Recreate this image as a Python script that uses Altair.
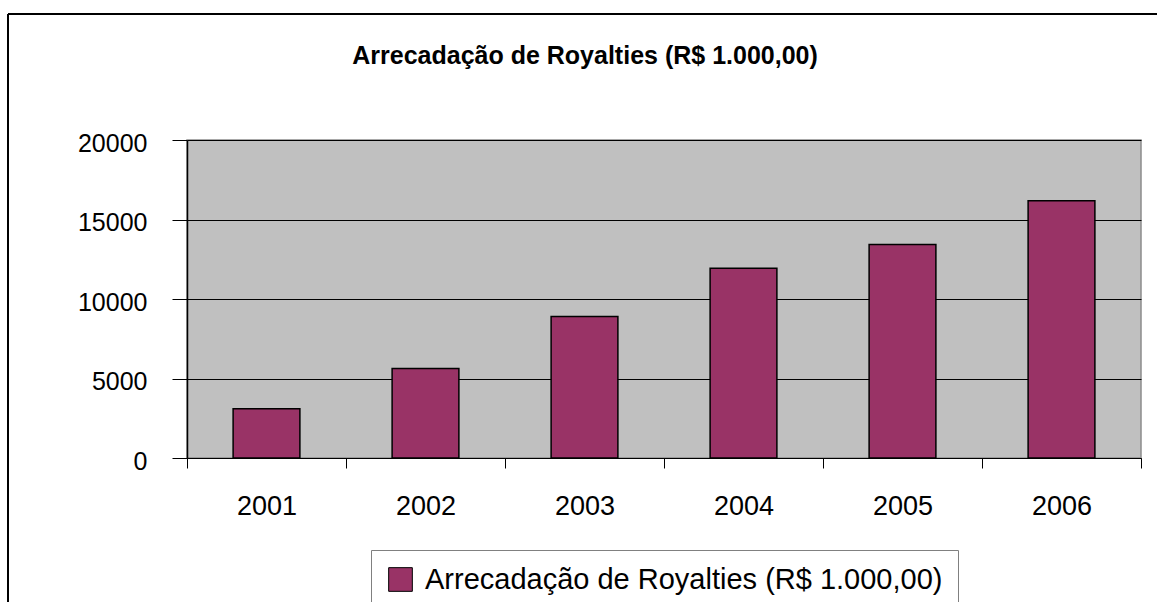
import altair as alt
import pandas as pd

years = ["2001", "2002", "2003", "2004", "2005", "2006"]
values = [3100, 5630, 8900, 11930, 13420, 16180]
series_name = "Arrecadação de Royalties (R$ 1.000,00)"
title_text = "Arrecadação de Royalties (R$ 1.000,00)"
y_ticks = [0, 5000, 10000, 15000, 20000]

df = pd.DataFrame({"ano": years, "valor": values, "serie": [series_name] * len(years)})

FONT = "Liberation Sans"
PLOT_W, PLOT_H = 954, 318
PAD_L, PAD_T, PAD_R, PAD_B = 187, 140, 16, 144

bars = alt.Chart(df).mark_bar(
    stroke="black", strokeWidth=1.5, width=alt.RelativeBandSize(0.42)
).encode(
    x=alt.X(
        "ano:N",
        title=None,
        sort=years,
        scale=alt.Scale(paddingInner=0, paddingOuter=0),
        axis=alt.Axis(
            labelAngle=0,
            labelFont=FONT,
            labelFontSize=27,
            labelColor="black",
            labelPadding=25,
            tickBand="extent",
            tickSize=10,
            tickColor="black",
            domainColor="black",
            domainWidth=1,
            grid=False,
        ),
    ),
    y=alt.Y(
        "valor:Q",
        title=None,
        scale=alt.Scale(domain=[0, 20000], nice=False),
        axis=alt.Axis(
            values=y_ticks,
            format="d",
            labelFont=FONT,
            labelFontSize=25,
            labelColor="black",
            labelPadding=25,
            labelOffset=3,
            tickSize=15,
            tickColor="black",
            domainColor="black",
            domainWidth=1.5,
            gridColor="black",
            gridWidth=1,
        ),
    ),
    color=alt.Color(
        "serie:N",
        scale=alt.Scale(domain=[series_name], range=["#993366"]),
        legend=alt.Legend(
            title=None,
            orient="none",
            legendX=184,
            legendY=410,
            symbolType="square",
            symbolSize=560,
            symbolStrokeColor="black",
            symbolStrokeWidth=1,
            symbolOpacity=1,
            labelFont=FONT,
            labelFontSize=29,
            labelColor="black",
            labelOffset=10,
            labelLimit=900,
            padding=15,
            strokeColor="#808080",
            fillColor="white",
        ),
    ),
)

frame_top = alt.Chart(df).mark_rule(color="black", strokeWidth=2).encode(
    x=alt.value(8 - PAD_L), x2=alt.value(1157 - PAD_L + 20), y=alt.value(14 - PAD_T)
)
frame_left = alt.Chart(df).mark_rule(color="black", strokeWidth=2).encode(
    x=alt.value(8 - PAD_L), y=alt.value(14 - PAD_T), y2=alt.value(602 - PAD_T + 20)
)

chart = (
    alt.layer(frame_top, frame_left, bars)
    .properties(
        width=PLOT_W,
        height=PLOT_H,
        autosize=alt.AutoSizeParams(type="none"),
        padding={"left": PAD_L, "top": PAD_T, "right": PAD_R, "bottom": PAD_B},
        title=alt.TitleParams(
            text=title_text,
            font=FONT,
            fontSize=25,
            fontWeight="bold",
            color="black",
            anchor="middle",
            dx=-79,
            offset=-56,
        ),
    )
    .configure(background="white")
    .configure_view(fill="#C0C0C0", stroke="#8c8c8c", strokeWidth=1.5)
)

chart.save("out.html", embed_options={"renderer": "svg", "actions": False})
